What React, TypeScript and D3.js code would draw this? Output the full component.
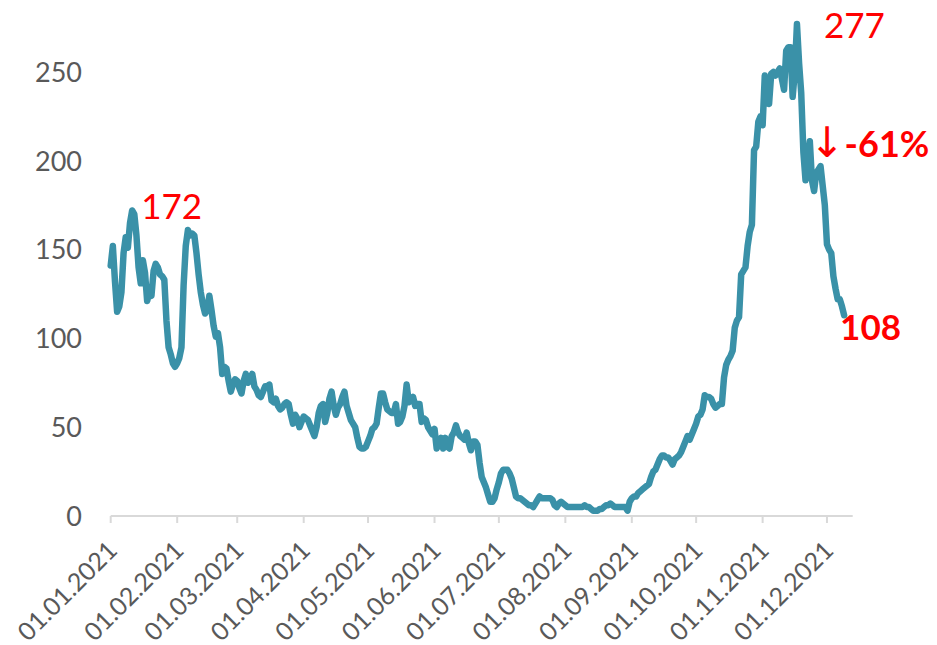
import React, { useEffect, useRef } from 'react'
import * as d3 from 'd3'

// daily values from 01.01.2021
const startDate = new Date(Date.UTC(2021, 0, 1))
const axisEnd = new Date(Date.UTC(2021, 11, 13))

const values = [
  141, 152, 132, 115, 118, 126, 148, 157, 151, 165,
  172, 170, 158, 140, 131, 144, 137, 121, 126, 124,
  138, 142, 140, 136, 135, 133, 110, 95, 91, 86,
  84, 86, 89, 95, 130, 152, 161, 158, 159, 158,
  148, 136, 126, 119, 114, 116, 124, 116, 107, 101,
  103, 95, 80, 84, 83, 76, 70, 74, 77, 76,
  72, 69, 76, 80, 75, 77, 80, 73, 71, 68,
  67, 70, 73, 73, 74, 65, 64, 66, 62, 60,
  61, 63, 64, 63, 57, 52, 57, 55, 50, 53,
  56, 55, 54, 51, 48, 45, 50, 58, 62, 63,
  53, 58, 66, 70, 62, 57, 61, 63, 67, 70,
  62, 58, 54, 52, 50, 44, 39, 38, 38, 39,
  42, 45, 49, 50, 52, 61, 69, 69, 64, 60,
  59, 58, 58, 63, 52, 53, 56, 62, 74, 64,
  65, 67, 62, 63, 63, 53, 55, 54, 50, 48,
  46, 49, 38, 42, 44, 38, 44, 39, 38, 45,
  47, 51, 47, 45, 44, 43, 47, 41, 37, 42,
  42, 40, 30, 22, 19, 16, 12, 8, 8, 10,
  15, 19, 24, 26, 26, 26, 24, 21, 16, 11,
  10, 10, 9, 8, 7, 6, 6, 5, 7, 9,
  11, 10, 10, 10, 10, 10, 9, 6, 5, 7,
  8, 7, 6, 5, 5, 5, 5, 5, 5, 5,
  5, 6, 5, 5, 4, 3, 3, 3, 4, 4,
  5, 6, 6, 7, 6, 5, 5, 5, 5, 5,
  5, 3, 8, 10, 11, 11, 13, 14, 15, 16,
  17, 18, 22, 25, 26, 29, 32, 34, 34, 33,
  33, 31, 29, 32, 33, 34, 36, 39, 42, 45,
  43, 46, 49, 52, 56, 57, 60, 68, 67, 67,
  66, 63, 61, 62, 63, 63, 78, 85, 88, 90,
  93, 106, 110, 112, 136, 138, 140, 152, 160, 164,
  206, 208, 222, 225, 220, 248, 236, 232, 249, 250,
  248, 250, 252, 246, 240, 262, 264, 264, 236, 250,
  277, 255, 238, 205, 189, 200, 211, 189, 183, 193,
  195, 197, 186, 175, 153, 150, 148, 135, 128, 122,
  122, 118, 113,
]

const yTicks = [0, 50, 100, 150, 200, 250]

const annotations = [
  { text: '172', day: 10, value: 172, dx: 9, dy: 8, bold: false },
  { text: '277', day: 320, value: 277, dx: 27, dy: 14, bold: false },
  { text: '108', day: 342, value: 113, dx: -4, dy: 25, bold: true },
]
const dropNote = { arrow: '↓', text: '-61%', day: 330, value: 197, dx: -9, dy: -9 }

const dayToDate = (i: number) => new Date(startDate.getTime() + i * 86400000)

export default function App() {
  const ref = useRef<SVGSVGElement>(null)

  useEffect(() => {
    document.body.style.margin = '0'
    const svg = d3.select(ref.current)
    svg.selectAll('*').remove()

    const x = d3.scaleUtc().domain([startDate, axisEnd]).range([110.7, 852.7])
    const y = d3.scaleLinear().domain([0, 250]).range([516, 72])
    const font = 'Lato, "Open Sans", sans-serif'

    // y labels
    svg.append('g')
      .selectAll('text')
      .data(yTicks)
      .enter()
      .append('text')
      .attr('x', 82)
      .attr('y', d => y(d))
      .attr('dy', '0.36em')
      .attr('text-anchor', 'end')
      .attr('font-family', font)
      .attr('font-size', 27)
      .attr('fill', '#595959')
      .text(d => d)

    // x axis
    const months = d3.utcMonth.range(startDate, axisEnd)
    const gx = svg.append('g')
    gx.append('line')
      .attr('x1', x(startDate))
      .attr('x2', x(axisEnd))
      .attr('y1', y(0))
      .attr('y2', y(0))
      .attr('stroke', '#D9D9D9')
      .attr('stroke-width', 2)
    gx.selectAll('.tick')
      .data(months)
      .enter()
      .append('line')
      .attr('x1', d => x(d))
      .attr('x2', d => x(d))
      .attr('y1', y(0))
      .attr('y2', y(0) + 7)
      .attr('stroke', '#D9D9D9')
      .attr('stroke-width', 2)
    const fmt = d3.utcFormat('%d.%m.%Y')
    gx.selectAll('.lbl')
      .data(months)
      .enter()
      .append('text')
      .attr('transform', d => `translate(${x(d) + 8},${y(0) + 36}) rotate(-45)`)
      .attr('text-anchor', 'end')
      .attr('font-family', font)
      .attr('font-size', 25)
      .attr('fill', '#595959')
      .text(d => fmt(d))

    // line
    const line = d3.line<number>()
      .x((d, i) => x(dayToDate(i)))
      .y(d => y(d))
    svg.append('path')
      .datum(values)
      .attr('d', line)
      .attr('fill', 'none')
      .attr('stroke', '#3A91A8')
      .attr('stroke-width', 6.5)
      .attr('stroke-linejoin', 'round')
      .attr('stroke-linecap', 'round')

    // annotations
    svg.append('g')
      .selectAll('text')
      .data(annotations)
      .enter()
      .append('text')
      .attr('x', d => x(dayToDate(d.day)) + d.dx)
      .attr('y', d => y(d.value) + d.dy)
      .attr('font-family', font)
      .attr('font-size', 35)
      .attr('font-weight', d => (d.bold ? 'bold' : 'normal'))
      .attr('fill', '#FF0000')
      .text(d => d.text)

    const drop = svg.append('text')
      .attr('x', x(dayToDate(dropNote.day)) + dropNote.dx)
      .attr('y', y(dropNote.value) + dropNote.dy)
      .attr('fill', '#FF0000')
    drop.append('tspan')
      .attr('font-family', '"DejaVu Sans", sans-serif')
      .attr('font-size', 42)
      .text(dropNote.arrow)
    drop.append('tspan')
      .attr('font-family', font)
      .attr('font-size', 36)
      .attr('font-weight', 'bold')
      .text(dropNote.text)
  }, [])

  return <svg ref={ref} width={937} height={645} style={{ display: 'block' }} />
}
